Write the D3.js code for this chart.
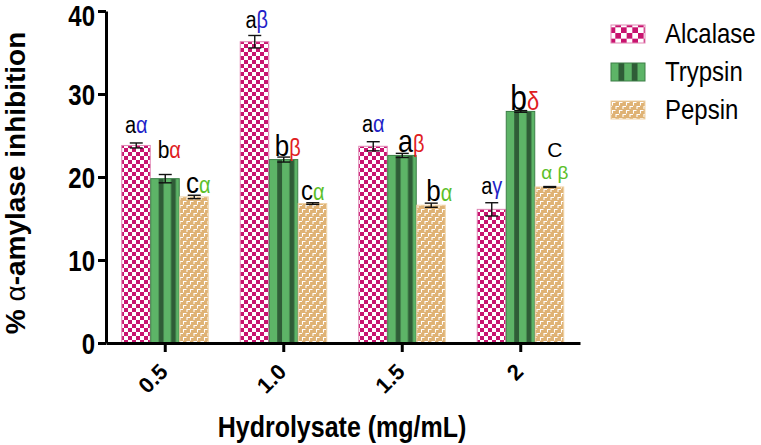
<!DOCTYPE html>
<html>
<head>
<meta charset="utf-8">
<script src="https://cdn.jsdelivr.net/npm/d3@7"></script>
<style>
  body { margin: 0; background: #fff; }
  svg { display: block; font-family: "Liberation Sans", Arial, sans-serif; }
  .axis path, .axis line { stroke: #000; stroke-width: 3px; }
  .axis text { font-weight: 700; fill: #000; }
</style>
</head>
<body>
<svg id="chart"></svg>
<script>
// values
const doses = ["0.5", "1.0", "1.5", "2"];
const seriesNames = ["Alcalase", "Trypsin", "Pepsin"];

const alcalase = [23.8, 36.3, 23.7, 16.1];
const alcalaseErr = [0.3, 0.75, 0.55, 0.8];
const trypsin = [19.8, 22.1, 22.6, 27.9];
const trypsinErr = [0.5, 0.3, 0.25, 0.1];
const pepsin = [17.6, 16.8, 16.6, 18.8];
const pepsinErr = [0.2, 0.1, 0.25, 0.05];

// significance letters
const alcalaseLetters = ["a", "a", "a", "a"];
const alcalaseGreek = ["α", "β", "α", "γ"];
const trypsinLetters = ["b", "b", "a", "b"];
const trypsinGreek = ["α", "β", "β", "δ"];
const pepsinLetters = ["c", "c", "b", "C"];
const pepsinGreek = ["α", "α", "α", "α β"];

const yTicks = [0, 10, 20, 30, 40];

const values = [alcalase, trypsin, pepsin];
const errors = [alcalaseErr, trypsinErr, pepsinErr];
const letters = [alcalaseLetters, trypsinLetters, pepsinLetters];
const greeks = [alcalaseGreek, trypsinGreek, pepsinGreek];

// label styling (sizes / nudges)
const letterSize = [[20, 20, 20, 20], [21, 26, 27, 30], [26, 24, 26, 21]];
const greekSize = [[20, 20, 20, 20], [20, 20, 20, 22], [20, 20, 20, 19]];
const labelGap = [[10, 7, 10, 9], [17, 1, 1, 1], [2, 3, 2, 8]];
const labelDx = [[0, 2, 0, 0], [4, 4, 9, 4], [4, 0, 8, 5]];
const greekColor = ["#1f1fc8", "#e0201e", "#5cbf2a"];

const W = 761, H = 445;
const margin = {left: 106, top: 11, right: 181, bottom: 102};
const STRETCH = 1.15; // figure text is a bit taller than normal

const svg = d3.select("#chart").attr("width", W).attr("height", H);
const defs = svg.append("defs");

// put a text at (x,y) and stretch it vertically around its baseline
function placeText(sel, x, y, k = STRETCH) {
  return sel.attr("transform", `translate(${x},${y}) scale(1,${k})`);
}

// checkerboard for alcalase
function checker(id, s, ox, oy) {
  let p = defs.append("pattern").attr("id", id)
    .attr("patternUnits", "userSpaceOnUse")
    .attr("x", ox).attr("y", oy)
    .attr("width", 2 * s).attr("height", 2 * s);
  p.append("rect").attr("width", 2 * s).attr("height", 2 * s).attr("fill", "#fff");
  p.append("rect").attr("width", s).attr("height", s).attr("fill", "#c8146f");
  p.append("rect").attr("x", s).attr("y", s).attr("width", s).attr("height", s).attr("fill", "#c8146f");
}
checker("chk", 4, 0, 0);
checker("chkL", 5.67, 611, 25);

// vertical stripes for trypsin
function stripes(id, a, b, w) {
  let p = defs.append("pattern").attr("id", id)
    .attr("patternUnits", "objectBoundingBox")
    .attr("patternContentUnits", "objectBoundingBox")
    .attr("width", 1).attr("height", 1);
  p.append("rect").attr("width", 1).attr("height", 1).attr("fill", "#5db467");
  p.append("rect").attr("x", a).attr("width", w).attr("height", 1).attr("fill", "#2f5d37");
  p.append("rect").attr("x", b).attr("width", w).attr("height", 1).attr("fill", "#2f5d37");
}
stripes("str", 0.28, 0.71, 0.17);
stripes("strL", 0.22, 0.61, 0.17);

// tan weave for pepsin
const pep = defs.append("pattern").attr("id", "pep")
  .attr("patternUnits", "userSpaceOnUse")
  .attr("width", 7).attr("height", 8);
pep.append("rect").attr("width", 7).attr("height", 8).attr("fill", "#dfb274");
pep.append("path")
  .attr("d", "M1,1.5H4.5M1.5,1V4.5M4.5,5.5H8M5,5V8.5M-2.5,5.5H1M-2,5V8.5")
  .attr("stroke", "#fff").attr("stroke-width", 1.1).attr("fill", "none");

const fills = ["url(#chk)", "url(#str)", "url(#pep)"];
const legendFills = ["url(#chkL)", "url(#strL)", "url(#pep)"];
const strokes = ["#e184b4", "#3c7f47", "#efd2a6"];

const x0 = d3.scaleBand().domain(doses).range([margin.left, W - margin.right]);
const groupW = 87;
const x1 = d3.scaleBand().domain(seriesNames)
  .range([(x0.bandwidth() - groupW) / 2, (x0.bandwidth() + groupW) / 2]);
const y = d3.scaleLinear().domain([0, 40]).range([H - margin.bottom, margin.top]);

// bars
const cells = [];
doses.forEach((d, i) => {
  seriesNames.forEach((s, k) => {
    cells.push({dose: d, i: i, k: k, series: s, v: values[k][i], e: errors[k][i]});
  });
});

const g = svg.append("g");

g.selectAll(".bar")
  .data(cells)
  .join("rect")
  .attr("class", "bar")
  .attr("x", d => x0(d.dose) + x1(d.series))
  .attr("y", d => y(d.v))
  .attr("width", x1.bandwidth() - 0.5)
  .attr("height", d => y(0) - y(d.v))
  .attr("fill", d => fills[d.k])
  .attr("stroke", d => strokes[d.k])
  .attr("stroke-width", 1);

// error bars
const cap = 13;
const mid = d => x0(d.dose) + x1(d.series) + x1.bandwidth() / 2;
const eb = g.selectAll(".err").data(cells).join("g").attr("class", "err")
  .attr("stroke", "#111").attr("stroke-width", 1.4);
eb.append("line")
  .attr("x1", mid).attr("x2", mid)
  .attr("y1", d => y(d.v - d.e)).attr("y2", d => y(d.v + d.e));
[1, -1].forEach(sgn => {
  eb.append("line")
    .attr("x1", d => mid(d) - cap / 2)
    .attr("x2", d => mid(d) + cap / 2)
    .attr("y1", d => y(d.v + sgn * d.e)).attr("y2", d => y(d.v + sgn * d.e));
});

// significance labels
cells.forEach(d => {
  let cx = mid(d) + labelDx[d.k][d.i];
  let base = y(d.v + d.e) - labelGap[d.k][d.i];
  let greek = greeks[d.k][d.i];
  let stacked = greek.indexOf(" ") >= 0;
  let t = placeText(g.append("text"), cx, stacked ? base - 22 : base, stacked ? 1 : STRETCH)
    .attr("text-anchor", "middle");
  t.append("tspan")
    .style("font-size", letterSize[d.k][d.i] + "px")
    .attr("fill", "#000")
    .text(letters[d.k][d.i]);
  if (stacked) {
    placeText(g.append("text"), cx, base, 1)
      .attr("text-anchor", "middle")
      .style("font-size", greekSize[d.k][d.i] + "px")
      .attr("fill", greekColor[d.k])
      .text(greek);
  } else {
    t.append("tspan")
      .style("font-size", greekSize[d.k][d.i] + "px")
      .attr("fill", greekColor[d.k])
      .text(greek);
  }
});

// axes
const yAxis = d3.axisLeft(y).tickValues(yTicks).tickSize(8).tickSizeOuter(0).tickPadding(3);
svg.append("g").attr("class", "axis y-axis")
  .attr("transform", `translate(${margin.left},0)`)
  .call(yAxis)
  .call(a => a.selectAll("text")
    .style("font-size", "24px")
    .attr("x", null).attr("dy", "0.36em")
    .attr("transform", d => `translate(-11,${d === 40 ? 4 : 0}) scale(1,1.2)`));

const xAxis = d3.axisBottom(x0).tickSize(9).tickSizeOuter(0);
svg.append("g").attr("class", "axis x-axis")
  .attr("transform", `translate(0,${y(0)})`)
  .call(xAxis)
  .call(a => a.selectAll("text")
    .style("font-size", "22px")
    .attr("text-anchor", "end")
    .attr("x", 0).attr("y", 0).attr("dy", 0)
    .attr("transform", "translate(4,30) rotate(-45)"));

// axis titles
const yt = svg.append("text")
  .attr("transform", "translate(25,183) rotate(-90)")
  .attr("text-anchor", "middle")
  .style("font-size", "28px").style("font-weight", "700");
yt.append("tspan").text("% ");
yt.append("tspan").style("font-weight", "400").text("α");
yt.append("tspan").text("-amylase inhibition");

placeText(svg.append("text"), 342, 437)
  .attr("text-anchor", "middle")
  .style("font-size", "25px").style("font-weight", "700")
  .text("Hydrolysate (mg/mL)");

// legend
const leg = svg.append("g").selectAll("g").data(seriesNames).join("g")
  .attr("transform", (d, i) => `translate(611,${25 + i * 38})`);
leg.append("rect")
  .attr("width", 34).attr("height", 18)
  .attr("fill", (d, i) => legendFills[i])
  .attr("stroke", (d, i) => strokes[i]).attr("stroke-width", 1);
placeText(leg.append("text"), 54, 18)
  .style("font-size", "24px")
  .text(d => d);
</script>
</body>
</html>
